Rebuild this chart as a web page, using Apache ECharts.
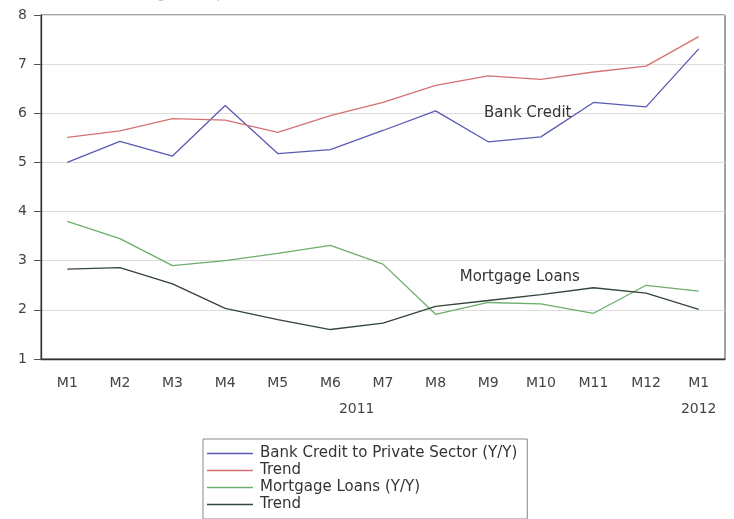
<!DOCTYPE html>
<html><head><meta charset="utf-8">
<script src="https://cdn.jsdelivr.net/npm/echarts@6/dist/echarts.min.js"></script>
<style>html,body{margin:0;padding:0;background:#fff}#c{width:734px;height:519px}</style>
</head><body><div id="c"></div>
<script>
const months = ['M1','M2','M3','M4','M5','M6','M7','M8','M9','M10','M11','M12','M1'];
const bankCredit = [5.0,5.43,5.13,6.16,5.18,5.26,5.65,6.05,5.42,5.52,6.22,6.13,7.31];
const bankTrend = [5.51,5.64,5.89,5.86,5.61,5.95,6.22,6.57,6.76,6.69,6.84,6.96,7.56];
const mortgage = [3.8,3.45,2.9,3.0,3.15,3.31,2.93,1.91,2.15,2.12,1.93,2.5,2.38];
const mortTrend = [2.83,2.86,2.53,2.03,1.8,1.6,1.73,2.07,2.19,2.31,2.45,2.34,2.01];
const names = ['Bank Credit to Private Sector (Y/Y)','Trend','Mortgage Loans (Y/Y)','Trend '];
const yTicks = [1,2,3,4,5,6,7,8];
const years = [{text:'2011', from:0, to:11},{text:'2012', from:12, to:12}];
const notes = [{text:'Bank Credit', idx:8.75, val:6.0},{text:'Mortgage Loans', idx:8.6, val:2.67}];

const chart = echarts.init(document.getElementById('c'));
const FONT = '"DejaVu Sans", "Liberation Sans", Arial, sans-serif';
const colors = ['#5a5ab4','#d47272','#6cae6c','#33453a'];
const mk = (name, data, i) => ({
  name, type:'line', data, symbol:'none', smooth:false,
  lineStyle:{color:colors[i], width:1.3}, itemStyle:{color:colors[i]}, z:3
});
chart.setOption({
  animation:false,
  backgroundColor:'#fff',
  grid:{left:41, right:9, top:15, bottom:160, show:true, borderColor:'#444', borderWidth:1},
  xAxis:{type:'category', data:months, boundaryGap:true,
    axisLine:{lineStyle:{color:'#333', width:1.3}},
    axisTick:{inside:true, length:5, interval:0, lineStyle:{color:'#333'}},
    axisLabel:{interval:0, margin:17, color:'#444', fontSize:14, fontFamily:FONT},
    splitLine:{show:false}},
  yAxis:{type:'value', min:1, max:8, interval:1,
    axisLine:{show:true, lineStyle:{color:'#333', width:1.3}},
    axisTick:{show:true, length:7, lineStyle:{color:'#555'}},
    axisLabel:{margin:14, color:'#444', fontSize:14, fontFamily:FONT,
      formatter:v=>yTicks.includes(v)?String(v):''},
    splitLine:{show:true, lineStyle:{color:'#dcdcdc', width:1}}},
  legend:{orient:'vertical', left:203, top:439, padding:[6,10,6,4],
    icon:'rect', itemWidth:46, itemHeight:1.5, itemGap:0,
    borderColor:'#888', borderWidth:1, backgroundColor:'#fff',
    textStyle:{fontSize:15, lineHeight:17, color:'#333', fontFamily:FONT, padding:[0,0,0,2]},
    data:names},
  series:[mk(names[0],bankCredit,0), mk(names[1],bankTrend,1), mk(names[2],mortgage,2), mk(names[3],mortTrend,3)]
});

function xAt(idx){
  const a = Math.floor(idx), b = Math.ceil(idx);
  const xa = chart.convertToPixel({xAxisIndex:0}, a);
  const xb = chart.convertToPixel({xAxisIndex:0}, b);
  return xa + (xb - xa) * (idx - a);
}
function addGraphics(){
  const g = [];
  const yb = chart.convertToPixel({yAxisIndex:0}, 1);
  years.forEach(y=>{
    g.push({type:'text', x:(xAt(y.from)+xAt(y.to))/2, y:yb+50, style:{text:y.text, fill:'#444', font:'14px '+FONT, align:'center', verticalAlign:'middle'}});
  });
  notes.forEach(n=>{
    const py = chart.convertToPixel({yAxisIndex:0}, n.val);
    g.push({type:'text', x:xAt(n.idx), y:py, z:10, style:{text:n.text, fill:'#333', font:'15px '+FONT, align:'center', verticalAlign:'middle'}});
  });
  g.push({type:'text', x:2, y:-13, style:{text:'Growth of bank lending to the private sector', fill:'#c8c8c8', font:'14px '+FONT}});
  chart.setOption({graphic:g});
}
addGraphics();
</script></body></html>
